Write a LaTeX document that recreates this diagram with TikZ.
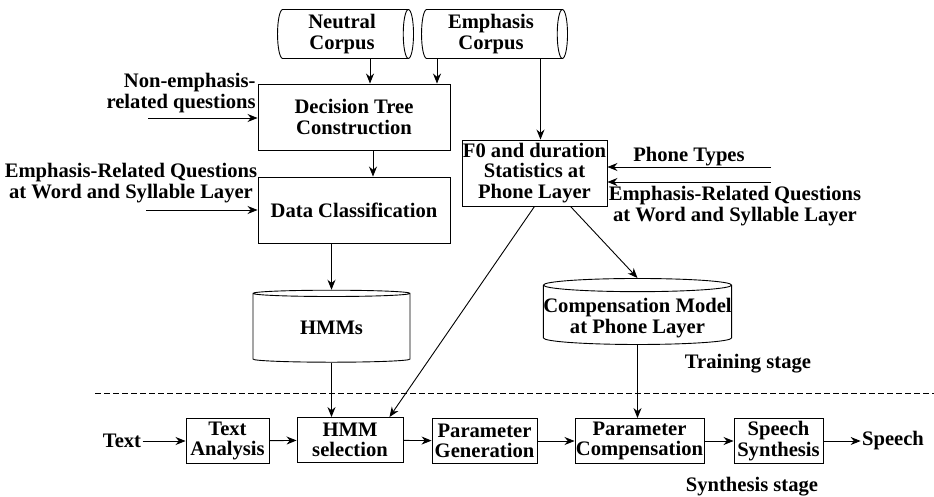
\documentclass[tikz,border=0pt]{standalone}
\usepackage{fontspec}
\setmainfont{Liberation Serif}
\usetikzlibrary{shapes.geometric,arrows.meta}
\begin{document}
\begin{tikzpicture}[x=1pt,y=-1pt,>={Stealth[length=10pt,width=8pt]},line width=.9pt,
    every node/.style={font=\bfseries\fontsize{20.6}{20.5}\selectfont,align=center,inner sep=1pt},
    blk/.style={draw,rectangle},
    corpus/.style={draw,cylinder,aspect=.25,minimum height=136pt,minimum width=49pt},
    store/.style={draw,cylinder,shape border rotate=90,aspect=.1,inner sep=0pt}]
  \useasboundingbox (0,0) rectangle (934,496);
  % training part
  \node [corpus] (ncorp) at (342,34) {Neutral\\Corpus};
  \node [corpus,minimum height=146pt] (ecorp) at (491,34) {Emphasis\\Corpus};
  \node [blk,minimum width=192pt,minimum height=66pt] (dtc) at (354,117) {Decision Tree\\Construction};
  \node [blk,minimum width=192pt,minimum height=66pt] (dcl) at (354,210) {Data Classification};
  \node [store,minimum width=157pt,minimum height=72pt] (hmms) at (331.5,328) {HMMs};
  \node [blk,minimum width=145pt,minimum height=66pt,inner sep=0pt] (fzero) at (534.5,173) {F0 and duration\\Statistics at\\Phone Layer};
  \node [store,aspect=.07,text height=36pt,text depth=-6pt,minimum width=185pt,minimum height=66pt] (cmod) at (637.5,315) {Compensation Model\\at Phone Layer};
  \node [anchor=east,align=right] (neq) at (257,93) {Non-emphasis-\\related questions};
  \node (erq) at (131,183) {Emphasis-Related Questions\\at Word and Syllable Layer};
  \node (ptyp) at (689,157) {Phone Types};
  \node (erq2) at (735,206) {Emphasis-Related Questions\\at Word and Syllable Layer};
  \node (trn) at (748,364) {Training stage};
  \coordinate (q1) at (148,118);
  \coordinate (q2) at (146,210);
  \coordinate (p1) at (771,167);
  \coordinate (p2) at (771,182);
  \draw [->] ([xshift=28pt]ncorp.south) -- ([xshift=28pt]ncorp.south |- dtc.north);
  \draw [->] ([xshift=-54pt]ecorp.south) -- ([xshift=-54pt]ecorp.south |- dtc.north);
  \draw [->] ([xshift=6pt]fzero.north |- ecorp.south) -- ([xshift=6pt]fzero.north);
  \draw [->] (q1) -- (dtc.west |- q1);
  \draw [->] (q2) -- (dcl.west |- q2);
  \draw [->] ([xshift=19pt]dtc.south) -- ([xshift=19pt]dcl.north);
  \draw [->] (dcl.south -| hmms.north) -- (hmms.north);
  \draw [->] (p1) -- (fzero.east |- p1);
  \draw [->] (p2) -- (fzero.east |- p2);
  \draw [->] ([xshift=36pt]fzero.south) -- (cmod.north);
  % dashed separator
  \draw [dash pattern=on 6pt off 3pt,line width=.6pt] (95,393) -- (934,393);
  % synthesis part
  \node (txt) at (122,441) {Text};
  \node [blk,minimum width=83pt,minimum height=45pt] (ta) at (227.5,441) {Text\\Analysis};
  \node [blk,minimum width=106pt,minimum height=45pt] (hsel) at (350,440) {HMM\\selection};
  \node [blk,minimum width=105pt,minimum height=45pt] (pgen) at (484.5,441) {Parameter\\Generation};
  \node [blk,minimum width=129pt,minimum height=45pt] (pcomp) at (639.5,441) {Parameter\\Compensation};
  \node [blk,minimum width=89pt,minimum height=45pt] (ssyn) at (778.5,441) {Speech\\Synthesis};
  \node (spch) at (893,441) {Speech};
  \node (syn) at (752,487) {Synthesis stage};
  \draw [->] (txt) -- (ta);
  \draw [->] (ta) -- (hsel);
  \draw [->] (hsel) -- (pgen);
  \draw [->] (pgen) -- (pcomp);
  \draw [->] (pcomp) -- (ssyn);
  \draw [->] (ssyn) -- (spch);
  \draw [->] (hmms.south) -- (hmms.south |- hsel.north);
  \draw [->] (fzero.south) -- ([xshift=-14pt]hsel.north east);
  \draw [->] (cmod.south) -- (cmod.south |- pcomp.north);
\end{tikzpicture}
\end{document}
